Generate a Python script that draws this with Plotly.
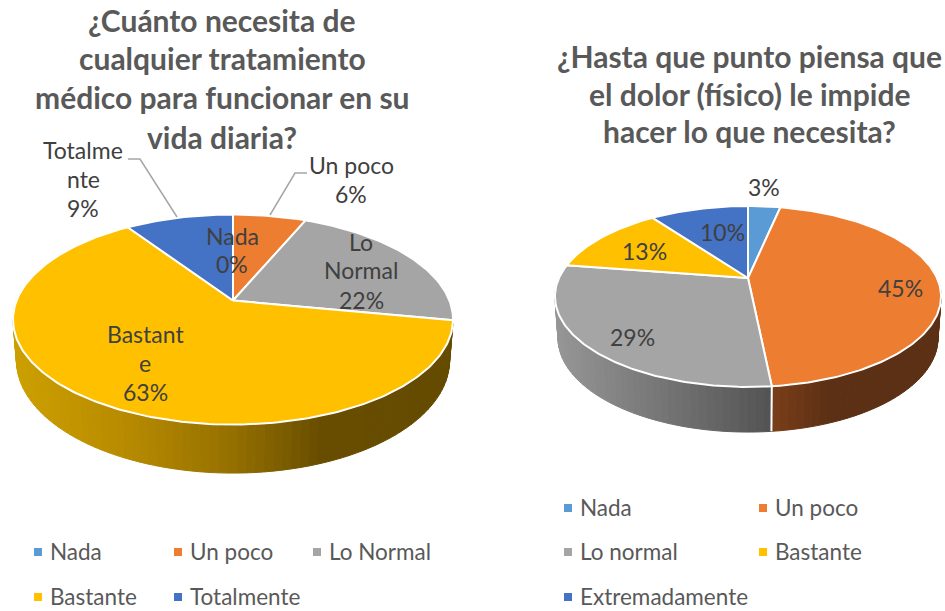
import numpy as np
import plotly.graph_objects as go

# ---- data ----
left_categories = ["Nada", "Un poco", "Lo Normal", "Bastante", "Totalmente"]
left_values = [0, 6.4, 21.6, 62.55, 9.45]
right_categories = ["Nada", "Un poco", "Lo normal", "Bastante", "Extremadamente"]
right_values = [3.3, 45.1, 29, 12.6, 10]
left_title = ["¿Cuánto necesita de", "cualquier tratamiento", "médico para funcionar en su", "vida diaria?"]
right_title = ["¿Hasta que punto piensa que", "el dolor (físico) le impide", "hacer lo que necesita?"]

# ---- style ----
LB, OR, GR, YE, BL = "#5B9BD5", "#ED7D31", "#A5A5A5", "#FFC000", "#4472C4"
left_colors = [LB, OR, GR, YE, BL]
right_colors = [LB, OR, GR, YE, BL]
FONT = "Lato"
TITLE_C, LABEL_C, LEG_C = "#595959", "#404040", "#595959"

left_geom = dict(cx=233, ay=300.5, a=216.4, b=101.6, k=0.181, ay2=340, a2=213, b2=109)
right_geom = dict(cx=748, ay=278, a=189, b=86.7, k=0.204, ay2=319, a2=186, b2=90)

# wall shading: x position -> rgb, per slice colour
left_wall = {YE: ([15, 120, 230, 320, 453],
                  [(205, 160, 0), (185, 140, 0), (150, 113, 0), (105, 78, 0), (100, 75, 0)])}
right_wall = {GR: ([558, 770], [(150, 150, 150), (84, 84, 84)]),
              OR: ([772, 830, 940], [(122, 62, 26), (92, 48, 20), (92, 48, 20)])}


def pct(v):
    return f"{int(round(v))}%"


def ring(t, g, lower=False):
    x, y = np.sin(t), np.cos(t)
    w = 1 + g["k"] * y
    if lower:
        return g["cx"] + g["a2"] * x / w, g["ay2"] - g["b2"] * y / w
    return g["cx"] + g["a"] * x / w, g["ay"] - g["b"] * y / w


def add_pie(fig, values, colors, g, wall):
    edges = 2 * np.pi * np.cumsum([0] + values) / sum(values)
    # side walls, drawn first
    for v, c, t0, t1 in zip(values, colors, edges[:-1], edges[1:]):
        if v == 0 or c not in wall:
            continue
        xs_stop, rgb = wall[c]
        n = max(2, int(np.degrees(t1 - t0) / 2))
        ts = np.linspace(t0, t1, n + 1)
        for a, b in zip(ts[:-1], ts[1:]):
            if np.cos((a + b) / 2) > 0.35:
                continue
            xt0, yt0 = ring(a, g)
            xt1, yt1 = ring(b, g)
            xb0, yb0 = ring(a, g, True)
            xb1, yb1 = ring(b, g, True)
            mid = (xt0 + xt1 + xb0 + xb1) / 4
            col = "rgb(%d,%d,%d)" % tuple(
                np.interp(mid, xs_stop, [p[i] for p in rgb]) for i in range(3))
            fig.add_trace(go.Scatter(x=[xt0, xt1, xb1, xb0, xt0], y=[yt0, yt1, yb1, yb0, yt0],
                                     mode="lines", fill="toself", fillcolor=col,
                                     line=dict(color=col, width=1), hoverinfo="skip"))
    # white separators on the wall
    for e in edges[:-1]:
        if np.cos(e) < -0.5:
            xt, yt = ring(e, g)
            xb, yb = ring(e, g, True)
            fig.add_trace(go.Scatter(x=[xt, xb], y=[yt, yb], mode="lines",
                                     line=dict(color="white", width=2), hoverinfo="skip"))
    # top faces
    for v, c, t0, t1 in zip(values, colors, edges[:-1], edges[1:]):
        if v == 0:
            continue
        ts = np.linspace(t0, t1, max(8, int(np.degrees(t1 - t0))))
        x, y = ring(ts, g)
        px = [g["cx"]] + list(x) + [g["cx"]]
        py = [g["ay"]] + list(y) + [g["ay"]]
        fig.add_trace(go.Scatter(x=px, y=py, mode="lines", fill="toself", fillcolor=c,
                                 line=dict(color="white", width=2), hoverinfo="skip"))


def add_legend(fig, cats, colors, positions):
    for cat, c, (x, y) in zip(cats, colors, positions):
        fig.add_trace(go.Scatter(x=[x], y=[y], mode="markers",
                                 marker=dict(symbol="square", size=8, color=c), hoverinfo="skip"))
        fig.add_annotation(x=x + 10, y=y - 1, text=cat, xanchor="left", yanchor="middle", showarrow=False,
                           font=dict(family=FONT, size=22.5, color=LEG_C))


fig = go.Figure()
add_pie(fig, left_values, left_colors, left_geom, left_wall)
add_pie(fig, right_values, right_colors, right_geom, right_wall)

add_legend(fig, left_categories, left_colors,
           [(38, 552), (178, 552), (317, 552), (38, 597), (178, 597)])
add_legend(fig, right_categories, right_colors,
           [(568, 508), (763, 508), (568, 552), (763, 552), (568, 597)])

# titles
for line, y in zip(left_title, [20, 58, 97, 137]):
    fig.add_annotation(x=222, y=y, text=f"<b>{line}</b>", showarrow=False, yanchor="middle",
                       font=dict(family=FONT, size=30, color=TITLE_C))
for line, y in zip(right_title, [56, 94, 131]):
    fig.add_annotation(x=749, y=y, text=f"<b>{line}</b>", showarrow=False, yanchor="middle",
                       font=dict(family=FONT, size=30, color=TITLE_C))

# data labels
labels = [
    ("Nada", 232, 236), (pct(left_values[0]), 232, 264),
    ("Un poco", 351, 165), (pct(left_values[1]), 351, 194),
    ("Lo", 361, 242), ("Normal", 361, 270), (pct(left_values[2]), 361, 300),
    ("Bastant", 145, 334), ("e", 145, 363), (pct(left_values[3]), 145, 392),
    ("Totalme", 83, 150), ("nte", 83, 179), (pct(left_values[4]), 83, 208),
    (pct(right_values[0]), 764, 187), (pct(right_values[1]), 900, 288),
    (pct(right_values[2]), 632, 337), (pct(right_values[3]), 644, 251),
    (pct(right_values[4]), 722, 232),
]
for txt, x, y in labels:
    fig.add_annotation(x=x, y=y, text=txt, showarrow=False, yanchor="middle",
                       font=dict(family=FONT, size=23, color=LABEL_C))

# leader lines
for xs, ys in [([128, 140, 177], [159, 159, 217]), ([307, 295, 270], [173, 173, 215])]:
    fig.add_trace(go.Scatter(x=xs, y=ys, mode="lines",
                             line=dict(color="#A6A6A6", width=1.5), hoverinfo="skip"))

fig.update_layout(
    width=945, height=611, margin=dict(l=0, r=0, t=0, b=0),
    paper_bgcolor="white", plot_bgcolor="white", showlegend=False,
    xaxis=dict(range=[0, 945], visible=False, fixedrange=True),
    yaxis=dict(range=[611, 0], visible=False, fixedrange=True),
)
fig.write_html("out.html", config=dict(displayModeBar=False),
               post_script="document.body.style.margin='0';document.body.style.overflow='hidden';")
